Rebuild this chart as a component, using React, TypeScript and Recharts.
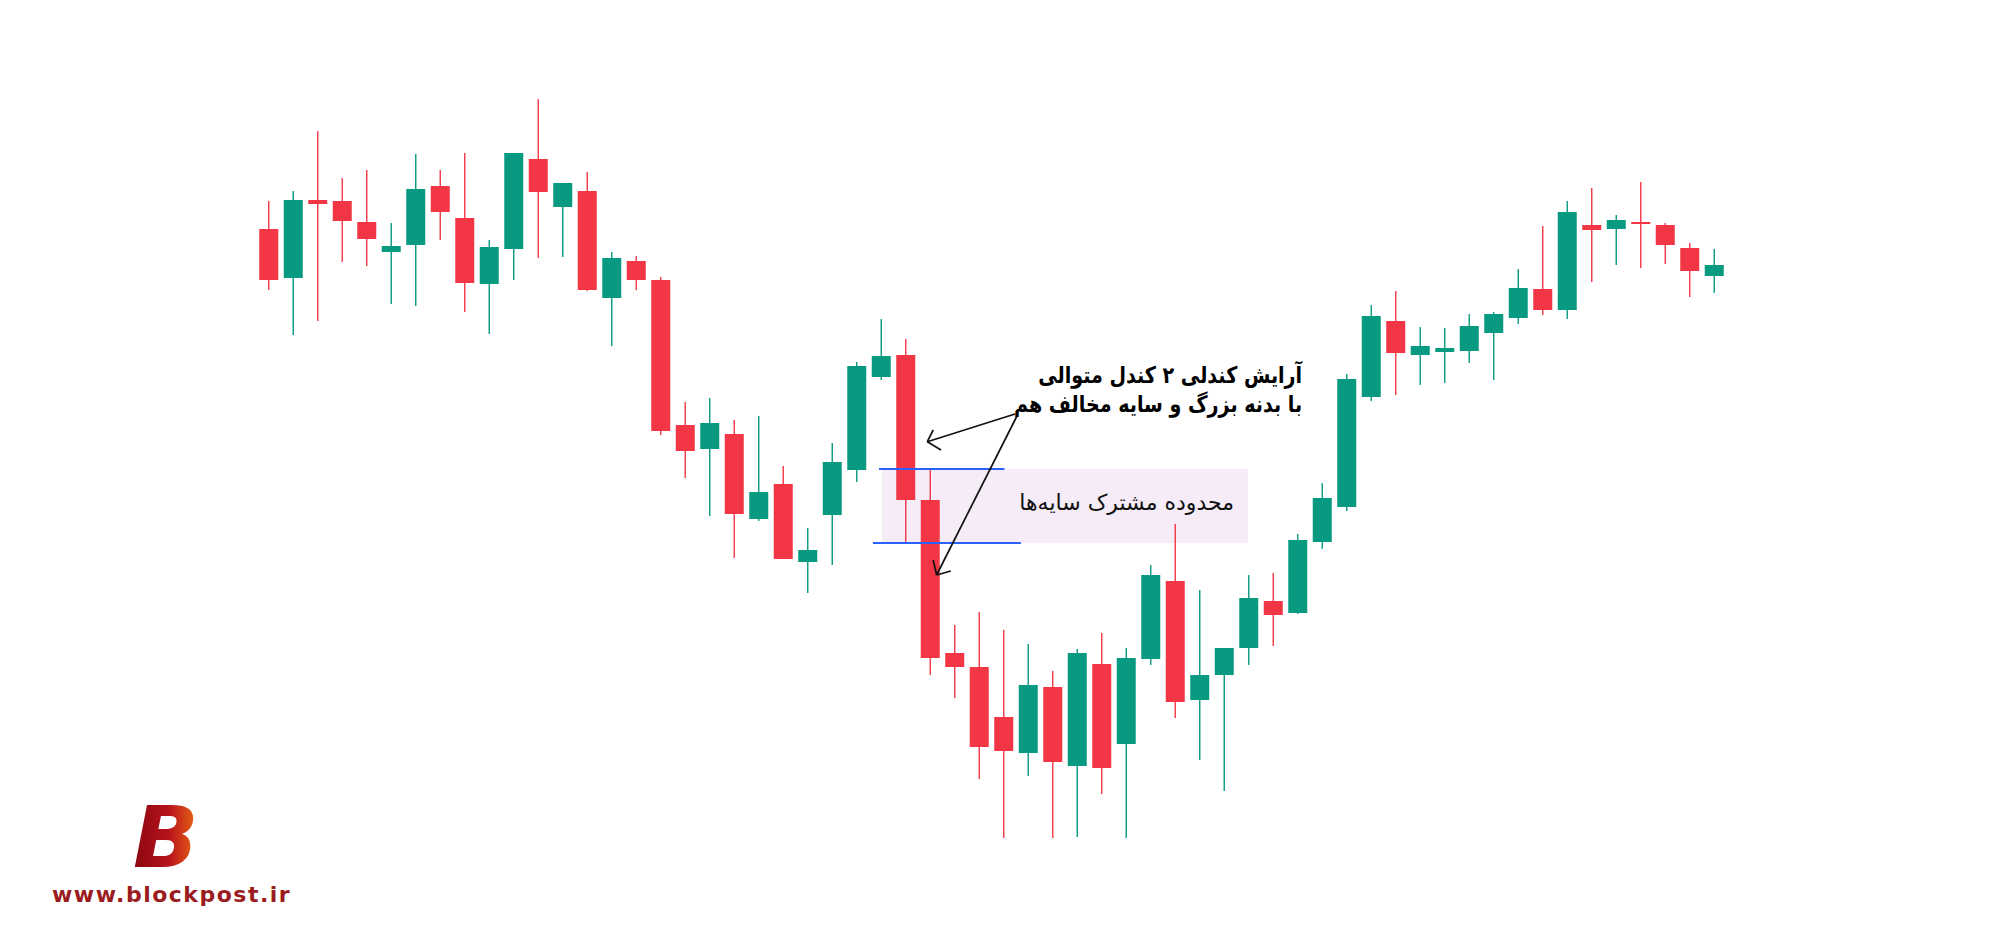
import React from 'react';
import { ComposedChart, Bar, XAxis, YAxis, ReferenceArea, ReferenceLine } from 'recharts';

// OHLC values (one entry per candle, left to right)
const openValues = [709, 660, 738, 737, 716, 686, 693, 752, 720, 654, 689, 779, 731, 747, 640, 677, 658, 513, 489, 504, 419, 454, 376, 423, 468, 561, 583, 438, 285, 271, 221, 185, 251, 172, 274, 194, 279, 357, 238, 263, 290, 337, 325, 396, 431, 541, 617, 583, 586, 587, 605, 620, 649, 628, 713, 709, 716, 713, 690, 662];
const highValues = [737, 747, 807, 760, 768, 715, 784, 768, 785, 698, 785, 839, 755, 766, 686, 682, 661, 536, 540, 518, 522, 472, 410, 495, 576, 619, 599, 469, 313, 326, 308, 294, 267, 289, 305, 290, 373, 414, 348, 290, 363, 365, 404, 455, 564, 633, 647, 611, 610, 624, 626, 669, 712, 737, 750, 723, 756, 715, 695, 689];
const lowValues = [648, 603, 617, 676, 672, 634, 632, 698, 626, 604, 658, 680, 681, 647, 592, 648, 503, 460, 422, 380, 417, 379, 345, 373, 456, 558, 395, 263, 240, 159, 100, 162, 100, 101, 144, 100, 273, 220, 178, 147, 273, 292, 324, 389, 427, 537, 543, 553, 555, 575, 558, 614, 623, 619, 656, 673, 670, 674, 641, 645];
const closeValues = [658, 738, 734, 717, 699, 692, 749, 726, 655, 691, 785, 746, 755, 648, 680, 658, 507, 487, 515, 424, 446, 379, 388, 476, 572, 582, 438, 280, 271, 191, 187, 253, 176, 285, 170, 280, 363, 236, 263, 290, 340, 323, 398, 440, 559, 622, 585, 592, 590, 612, 624, 650, 628, 726, 708, 718, 714, 693, 667, 673];

const UP = '#089981';
const DOWN = '#f23645';

const data = openValues.map((o, i) => ({
  idx: i + 1,
  open: o,
  high: highValues[i],
  low: lowValues[i],
  close: closeValues[i],
}));

// the two candles of the pattern — shared shadow zone
const first = data[26];
const second = data[27];

const Candle = (props: any) => {
  const { x, y, width, height, payload } = props;
  if (x == null || y == null) return null;
  const { open, close, high, low } = payload;
  const span = high - low || 1;
  const py = (v: number) => y + ((high - v) / span) * height;
  const color = close >= open ? UP : DOWN;
  const cx = x + width / 2;
  const top = py(Math.max(open, close));
  const bottom = py(Math.min(open, close));
  return (
    <g>
      <line x1={cx} x2={cx} y1={y} y2={y + height} stroke={color} strokeWidth={1.4} />
      <rect x={x} y={top} width={width} height={Math.max(bottom - top, 1)} fill={color} />
    </g>
  );
};

const seg = (a: [number, number], b: [number, number]) => [
  { x: a[0], y: a[1] },
  { x: b[0], y: b[1] },
];

// annotation arrows in chart units (x = candle index, y = price)
const arrowLines = [
  seg([31.47, 524], [27.89, 496.3]),
  seg([27.89, 496.3], [28.13, 508]),
  seg([27.89, 496.3], [28.45, 488]),
  seg([31.55, 522], [28.27, 363]),
  seg([28.27, 363], [28.13, 378]),
  seg([28.27, 363], [28.85, 367]),
];

const persianFont = '"DejaVu Sans", sans-serif';

export default function App() {
  return (
    <div style={{ position: 'absolute', left: 0, top: 0, width: 2000, height: 938, background: '#fff' }}>
      <ComposedChart
        width={2000}
        height={938}
        data={data}
        margin={{ top: 0, right: 273.75, bottom: 0, left: 256.25 }}
      >
        <XAxis type="number" dataKey="idx" domain={[0.5, 60.5]} hide />
        <YAxis type="number" domain={[0, 938]} hide />
        <ReferenceArea
          x1={26.04}
          x2={40.98}
          y1={first.low}
          y2={second.high}
          fill="#ebd9ef"
          fillOpacity={0.5}
          stroke="none"
        />
        <Bar
          dataKey={(d: any) => [d.low, d.high]}
          barSize={19}
          shape={<Candle />}
          isAnimationActive={false}
        />
        <ReferenceLine
          segment={seg([25.92, second.high], [31.04, second.high])}
          stroke="#2962ff"
          strokeWidth={2}
        />
        <ReferenceLine
          segment={seg([25.67, first.low], [31.71, first.low])}
          stroke="#2962ff"
          strokeWidth={2}
        />
        {arrowLines.map((s, i) => (
          <ReferenceLine key={i} segment={s} stroke="#111" strokeWidth={1.7} />
        ))}
      </ComposedChart>

      <div
        style={{
          position: 'absolute',
          right: 2000 - 1302,
          top: 361,
          direction: 'rtl',
          textAlign: 'right',
          fontFamily: persianFont,
          fontWeight: 700,
          fontSize: 23,
          lineHeight: '29px',
          color: '#000',
          whiteSpace: 'nowrap',
          transform: 'scaleX(0.83)',
          transformOrigin: 'right top',
        }}
      >
        <div>آرایش کندلی ۲ کندل متوالی</div>
        <div>با بدنه بزرگ و سایه مخالف هم</div>
      </div>

      <div
        style={{
          position: 'absolute',
          right: 2000 - 1234,
          top: 488,
          direction: 'rtl',
          textAlign: 'right',
          fontFamily: persianFont,
          fontWeight: 400,
          fontSize: 22,
          lineHeight: '30px',
          color: '#111',
          whiteSpace: 'nowrap',
        }}
      >
        محدوده مشترک سایه‌ها
      </div>

      <svg width={400} height={130} style={{ position: 'absolute', left: 0, top: 790, overflow: 'visible' }}>
        <defs>
          <linearGradient id="logoGrad" x1="0" y1="0" x2="1" y2="0">
            <stop offset="0%" stopColor="#8a0710" />
            <stop offset="55%" stopColor="#b8141c" />
            <stop offset="100%" stopColor="#ec6a14" />
          </linearGradient>
        </defs>
        <text
          x={133}
          y={77}
          fontFamily='"DejaVu Sans", sans-serif'
          fontWeight={900}
          fontStyle="italic"
          fontSize={86}
          fill="url(#logoGrad)"
        >
          B
        </text>
        <text
          x={52}
          y={112}
          fontFamily='"DejaVu Sans", sans-serif'
          fontWeight={700}
          fontSize={22}
          letterSpacing={1.5}
          fill="#9b1c20"
        >
          www.blockpost.ir
        </text>
      </svg>
    </div>
  );
}
